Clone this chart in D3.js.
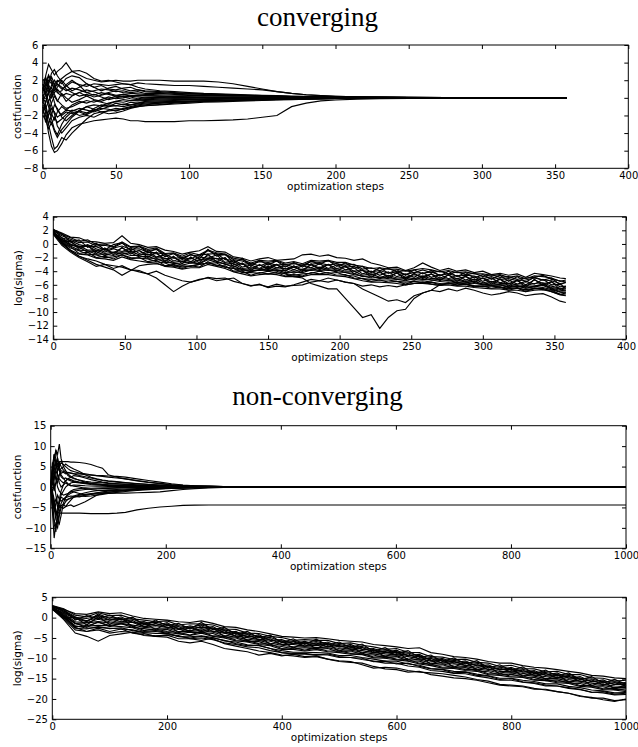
<!DOCTYPE html>
<html>
  <head>
    <meta charset="UTF-8" />
    <title>converging / non-converging</title>
    <script src="https://cdn.jsdelivr.net/npm/d3@7"></script>
    <style>
      body { margin: 0; background: #fff; }
      text { font-family: "DejaVu Sans", sans-serif; }
    </style>
  </head>
  <body>
    <script>
      // ---- data: converging run, costfunction ----
      var convCostSteps = [0,2,4,6,8,10,13,16,20,25,30,35,40,45,50,55,60,65,70,80,90,100,110,120,130,140,150,160,170,180,190,200,215,230,250,275,300,330,358];
      var convCostRuns = [
        [0.5,2.5,3.8,3.2,2.6,3.0,3.4,4.0,3.0,3.1,2.8,2.2,1.9,2.0,1.8,1.6,1.5,1.2,1.0,0.8,0.7,0.6,0.5,0.45,0.4,0.35,0.3,0.25,0.2,0.18,0.15,0.12,0.1,0.08,0.06,0.04,0.03,0.02,0.02],
        [1.0,1.5,2.0,1.6,1.2,1.8,2.2,2.6,3.0,2.6,2.2,2.0,1.8,1.9,2.0,1.9,1.9,2.0,2.0,2.0,1.9,1.9,1.9,1.8,1.6,1.3,1.0,0.7,0.5,0.35,0.25,0.18,0.12,0.08,0.05,0.04,0.03,0.02,0.02],
        [-1.5,-2.0,-4.0,-5.5,-6.2,-6.0,-5.2,-4.2,-3.4,-3.0,-2.8,-2.6,-2.5,-2.4,-2.3,-2.4,-2.6,-2.6,-2.7,-2.7,-2.7,-2.6,-2.6,-2.55,-2.5,-2.4,-2.2,-2.0,-1.0,-0.6,-0.35,-0.25,-0.15,-0.1,-0.06,-0.04,-0.03,-0.02,-0.02],
        [-0.5,-1.0,-3.0,-4.5,-5.8,-5.5,-4.5,-4.8,-4.0,-3.2,-2.4,-1.8,-1.6,-1.5,-1.4,-1.3,-1.1,-1.0,-0.9,-0.8,-0.7,-0.6,-0.5,-0.45,-0.4,-0.35,-0.3,-0.25,-0.2,-0.15,-0.12,-0.1,-0.08,-0.06,-0.04,-0.03,-0.02,-0.01,-0.01],
        [1.8,1.8,1.2,0.5,1.0,1.6,1.2,0.8,1.1,0.9,0.6,0.8,1.0,0.9,0.7,0.8,0.6,0.7,0.5,0.5,0.4,0.35,0.3,0.28,0.25,0.22,0.2,0.18,0.15,0.12,0.1,0.08,0.06,0.05,0.04,0.03,0.02,0.01,0.01],
        [-1.0,-1.5,-2.0,-1.2,-1.6,-2.2,-1.8,-1.4,-1.5,-1.2,-1.4,-1.6,-1.3,-1.0,-0.9,-1.0,-0.8,-0.7,-0.6,-0.5,-0.45,-0.4,-0.35,-0.3,-0.25,-0.22,-0.2,-0.17,-0.15,-0.12,-0.1,-0.08,-0.06,-0.05,-0.04,-0.03,-0.02,-0.01,-0.01],
        [0.2,0.6,-0.4,0.3,1.5,2.0,1.6,2.2,2.5,2.3,1.6,1.2,1.4,1.0,0.9,1.1,1.2,0.9,0.8,0.7,0.6,0.5,0.45,0.4,0.35,0.3,0.25,0.2,0.15,0.12,0.1,0.08,0.06,0.05,0.04,0.03,0.02,0.01,0.01],
        [0.0,-0.5,0.8,1.2,0.4,-0.3,-0.8,-1.2,-1.0,-0.6,-0.3,-0.5,-0.2,0.1,-0.1,0.0,0.2,0.1,0.0,0.1,0.05,0.0,0.05,0.03,0.02,0.02,0.01,0,0,0,0,0,0,0,0,0,0,0,0],
        [2.0,2.2,1.5,0.8,-0.5,-1.4,-2.0,-1.6,-1.8,-1.5,-1.7,-1.4,-1.2,-1.3,-1.5,-1.2,-1.0,-0.8,-0.7,-0.6,-0.5,-0.45,-0.4,-0.35,-0.3,-0.25,-0.2,-0.18,-0.15,-0.12,-0.1,-0.08,-0.06,-0.05,-0.04,-0.03,-0.02,-0.01,-0.01],
        [-2.0,-2.5,-3.5,-2.8,-3.8,-4.5,-3.6,-3.0,-2.2,-1.5,-1.0,-0.8,-0.9,-0.6,-0.4,-0.5,-0.3,-0.35,-0.3,-0.25,-0.2,-0.2,-0.15,-0.12,-0.1,-0.1,-0.08,-0.07,-0.06,-0.05,-0.04,-0.03,-0.02,-0.02,-0.01,-0.01,0,0,0],
        [0.8,1.0,2.5,2.0,1.4,0.6,0.2,0.5,0.3,0.6,0.9,0.7,0.4,0.6,0.8,0.6,0.5,0.45,0.4,0.35,0.3,0.28,0.25,0.22,0.2,0.18,0.15,0.13,0.11,0.1,0.08,0.06,0.05,0.04,0.03,0.02,0.02,0.01,0.01],
        [-0.8,-1.2,-0.4,-1.8,-2.5,-1.6,-1.0,-1.4,-0.8,-0.4,-0.6,-0.3,-0.5,-0.7,-0.4,-0.2,-0.3,-0.25,-0.2,-0.15,-0.12,-0.1,-0.1,-0.08,-0.07,-0.06,-0.05,-0.04,-0.03,-0.03,-0.02,-0.02,-0.01,-0.01,-0.01,0,0,0,0],
        [-0.3,0.3,1.5,2.8,3.2,2.5,1.8,1.0,0.6,0.2,0.4,0.1,0.3,0.5,0.3,0.4,0.2,0.3,0.25,0.2,0.15,0.12,0.1,0.1,0.08,0.07,0.06,0.05,0.04,0.03,0.03,0.02,0.02,0.01,0.01,0.01,0,0,0],
        [-1.5,-0.8,-2.2,-3.0,-2.2,-2.8,-2.4,-1.9,-1.4,-1.6,-1.9,-1.5,-1.0,-0.8,-0.9,-0.7,-0.8,-0.6,-0.5,-0.45,-0.4,-0.38,-0.35,-0.3,-0.28,-0.25,-0.22,-0.2,-0.16,-0.13,-0.1,-0.08,-0.06,-0.05,-0.04,-0.03,-0.02,-0.01,-0.01],
        [1.5,1.2,0.6,1.4,2.0,1.5,1.0,1.3,1.8,1.5,1.3,1.6,1.5,1.4,1.5,1.6,1.5,1.7,1.6,1.5,1.4,1.4,1.3,1.2,1.1,1.0,0.9,0.7,0.5,0.35,0.25,0.18,0.12,0.08,0.05,0.03,0.02,0.02,0.01],
        [-1.0,-2.8,-1.5,-0.6,0.2,-0.4,0.5,0.0,-0.5,-0.2,0.2,0.4,0.1,-0.2,0.0,0.2,0.1,-0.1,0.0,0.05,-0.05,0.0,0.05,0.0,0.02,0.0,0.01,0,0,0,0,0,0,0,0,0,0,0,0],
        [1.2,0.4,-1.0,-2.4,-3.6,-4.2,-3.0,-2.2,-1.6,-2.0,-1.8,-1.2,-0.8,-1.0,-0.6,-0.8,-0.5,-0.6,-0.4,-0.35,-0.3,-0.25,-0.2,-0.18,-0.15,-0.12,-0.1,-0.08,-0.06,-0.05,-0.04,-0.03,-0.02,-0.02,-0.01,-0.01,0,0,0],
        [-0.6,1.6,2.6,1.8,0.8,1.2,2.0,1.4,0.8,1.2,1.6,1.2,0.8,1.1,1.3,1.0,0.8,0.9,0.7,0.6,0.5,0.45,0.4,0.35,0.3,0.26,0.22,0.18,0.15,0.12,0.1,0.08,0.06,0.05,0.04,0.03,0.02,0.01,0.01],
        [0.4,-1.8,-3.0,-2.0,-0.8,-1.2,-2.2,-2.6,-2.0,-1.4,-1.0,-1.3,-1.6,-1.8,-1.7,-1.5,-1.2,-1.0,-0.9,-0.75,-0.6,-0.5,-0.42,-0.36,-0.3,-0.26,-0.22,-0.18,-0.15,-0.12,-0.1,-0.08,-0.06,-0.05,-0.04,-0.03,-0.02,-0.01,-0.01],
        [1.6,0.6,1.8,2.4,1.6,0.6,0.8,1.5,2.0,1.4,0.6,0.3,0.6,0.4,0.2,0.4,0.3,0.2,0.25,0.2,0.15,0.12,0.1,0.08,0.07,0.06,0.05,0.04,0.03,0.02,0.02,0.01,0.01,0.01,0,0,0,0,0],
        [-1.8,-0.6,0.6,-0.8,-1.8,-3.2,-4.0,-3.4,-2.6,-2.2,-2.0,-2.2,-1.8,-1.4,-1.2,-1.3,-1.1,-0.9,-0.8,-0.6,-0.5,-0.42,-0.35,-0.3,-0.25,-0.2,-0.17,-0.14,-0.12,-0.1,-0.08,-0.06,-0.05,-0.04,-0.03,-0.02,-0.01,-0.01,-0.01],
        [0.9,2.4,1.0,0.0,0.6,1.0,0.4,-0.4,0.2,0.6,0.2,-0.2,-0.4,-0.1,0.2,0.1,-0.1,-0.2,-0.1,-0.05,0.0,0.03,0.02,0.0,0.0,0,0,0,0,0,0,0,0,0,0,0,0,0,0]
      ];

      // ---- data: converging run, log(sigma) ----
      var convSigmaSteps = [0,6,12,18,24,30,36,42,48,54,60,66,72,78,84,90,96,102,108,114,120,126,132,138,144,150,156,162,168,174,180,186,192,198,204,210,216,222,228,234,240,246,252,258,264,270,276,282,288,294,300,306,312,318,324,330,336,342,348,354,358];
      var convSigmaRuns = [
        [2.1,1.6,1.0,0.9,0.4,0.3,0.1,0.2,1.2,0.1,-0.1,-0.5,-0.4,-0.9,-1.1,-1.5,-1.2,-1.0,-0.4,-1.1,-1.2,-1.9,-2.1,-2.5,-2.2,-2.0,-2.4,-2.3,-2.2,-1.6,-1.5,-1.8,-1.6,-2.0,-2.1,-2.4,-2.2,-2.8,-3.1,-3.5,-3.4,-3.9,-3.5,-2.8,-3.4,-3.9,-3.6,-4.0,-3.8,-4.2,-4.0,-4.5,-4.3,-4.6,-4.4,-4.9,-4.3,-4.5,-4.7,-5.0,-5.1],
        [1.9,1.2,0.7,0.2,0.3,-0.3,-0.2,-0.5,0.1,-0.5,-0.4,-1.0,-0.8,-1.5,-1.4,-2.0,-1.6,-1.8,-1.0,-1.5,-1.6,-2.3,-2.5,-3.0,-2.6,-2.7,-2.5,-3.0,-2.9,-3.1,-2.6,-2.7,-2.5,-2.9,-3.1,-3.0,-3.7,-3.5,-3.9,-3.6,-4.1,-3.9,-4.2,-3.8,-4.2,-4.0,-4.4,-4.1,-4.5,-4.3,-4.8,-4.5,-4.9,-4.8,-5.2,-5.0,-4.9,-4.6,-5.2,-5.4,-5.6],
        [1.7,0.9,0.5,-0.1,-0.4,-0.4,-0.9,-0.6,-0.3,-0.8,-0.7,-1.2,-1.3,-1.5,-2.1,-2.0,-2.2,-1.6,-1.5,-1.4,-2.3,-2.4,-3.0,-2.9,-3.2,-2.8,-3.1,-3.0,-3.4,-3.1,-3.0,-2.8,-3.1,-2.9,-3.4,-3.3,-3.9,-4.1,-3.9,-4.3,-4.1,-4.5,-4.2,-4.3,-4.1,-4.6,-4.4,-4.7,-4.6,-4.7,-5.1,-4.8,-5.2,-5.1,-5.4,-5.3,-5.0,-5.3,-5.4,-5.8,-5.7],
        [1.8,0.6,0.3,-0.4,-0.3,-1.0,-0.8,-1.3,-0.6,-1.2,-1.0,-1.6,-1.4,-2.2,-2.0,-2.6,-2.1,-2.5,-1.7,-2.2,-2.1,-3.0,-2.9,-3.6,-3.1,-3.5,-3.0,-3.7,-3.4,-3.8,-3.1,-3.5,-3.0,-3.6,-3.3,-4.0,-3.9,-4.5,-4.2,-4.7,-4.3,-4.9,-4.5,-4.8,-4.4,-5.0,-4.6,-5.1,-4.8,-5.3,-5.0,-5.6,-5.2,-5.8,-5.4,-6.0,-5.3,-5.8,-5.6,-6.3,-6.2],
        [1.6,0.7,-0.2,-0.3,-0.9,-0.9,-1.4,-1.2,-1.2,-1.1,-1.6,-1.5,-2.0,-2.1,-2.7,-2.5,-2.8,-2.3,-2.2,-2.1,-2.8,-2.9,-3.6,-3.5,-3.7,-3.3,-3.7,-3.6,-4.0,-3.7,-3.7,-3.4,-3.7,-3.6,-4.0,-4.0,-4.6,-4.4,-4.9,-4.6,-5.0,-4.9,-5.1,-4.7,-5.1,-5.0,-5.2,-5.1,-5.5,-5.2,-5.7,-5.5,-5.8,-5.8,-6.0,-6.1,-5.8,-5.7,-6.2,-6.5,-6.6],
        [1.9,0.4,-0.3,-0.9,-1.0,-1.5,-1.5,-1.7,-1.3,-1.7,-1.7,-2.1,-2.1,-2.7,-2.8,-3.1,-2.8,-2.9,-2.3,-2.7,-2.9,-3.5,-3.7,-4.1,-3.8,-3.9,-3.8,-4.2,-4.1,-4.2,-3.8,-3.9,-3.8,-4.1,-4.2,-4.5,-4.7,-5.0,-4.9,-5.1,-5.2,-5.4,-5.1,-5.2,-5.3,-5.5,-5.4,-5.6,-5.6,-5.8,-5.9,-6.0,-6.0,-6.3,-6.1,-6.5,-6.2,-6.0,-6.5,-6.8,-6.9],
        [1.5,0.2,-0.6,-1.0,-1.5,-1.6,-2.0,-1.9,-1.6,-2.0,-2.1,-2.2,-2.6,-2.8,-3.3,-3.2,-3.3,-3.0,-2.8,-2.8,-3.4,-3.6,-4.2,-4.2,-4.3,-4.0,-4.3,-4.3,-4.6,-4.4,-4.3,-4.0,-4.3,-4.2,-4.6,-4.7,-5.1,-5.2,-5.3,-5.3,-5.5,-5.6,-5.5,-5.4,-5.6,-5.8,-5.7,-5.8,-5.9,-6.1,-6.2,-6.2,-6.3,-6.5,-6.5,-6.7,-6.5,-6.4,-6.7,-7.1,-7.2],
        [1.7,0.1,-0.9,-1.5,-1.6,-2.1,-2.2,-2.4,-1.9,-2.3,-2.5,-2.7,-2.8,-3.3,-3.4,-3.7,-3.5,-3.5,-3.0,-3.3,-3.6,-4.1,-4.4,-4.7,-4.5,-4.4,-4.5,-4.8,-4.8,-4.8,-4.5,-4.5,-4.5,-4.7,-4.8,-5.1,-5.4,-5.6,-5.6,-5.7,-5.8,-6.0,-5.8,-5.8,-5.9,-6.1,-6.0,-6.2,-6.2,-6.4,-6.5,-6.6,-6.6,-6.8,-6.8,-7.0,-6.8,-6.7,-7.0,-7.5,-7.6],
        [2.0,1.5,0.3,0.6,-0.5,0.1,-0.9,-0.1,0.2,-1.0,-0.3,-1.3,-0.7,-1.9,-1.4,-2.3,-1.5,-2.2,-0.8,-1.8,-1.5,-2.8,-2.1,-3.3,-2.4,-3.1,-2.5,-3.4,-2.7,-3.4,-2.5,-3.0,-2.4,-3.3,-2.8,-3.6,-3.3,-4.2,-3.5,-4.3,-3.8,-4.6,-3.8,-4.4,-3.9,-4.7,-4.0,-4.8,-4.2,-5.0,-4.5,-5.2,-4.6,-5.5,-4.8,-5.6,-4.9,-5.3,-5.0,-6.0,-5.6],
        [1.7,0.3,0.5,-0.8,-0.2,-1.4,-0.6,-1.6,-0.5,-1.5,-0.9,-2.0,-1.2,-2.6,-1.8,-2.9,-1.9,-2.8,-1.5,-2.6,-2.0,-3.4,-2.8,-3.9,-3.0,-3.8,-3.0,-4.0,-3.2,-4.1,-2.9,-3.8,-3.0,-4.0,-3.2,-4.4,-3.8,-4.9,-4.0,-5.0,-4.2,-5.3,-4.3,-5.1,-4.4,-5.4,-4.5,-5.5,-4.7,-5.7,-5.0,-5.9,-5.1,-6.2,-5.3,-6.4,-5.2,-6.1,-5.5,-6.7,-6.2],
        [2.2,0.9,0.0,-0.5,-0.1,-0.7,-1.2,-0.7,-1.1,-0.6,-1.4,-1.1,-1.9,-1.6,-2.5,-2.1,-2.6,-1.9,-2.1,-1.6,-2.7,-2.5,-3.4,-3.1,-3.6,-2.9,-3.5,-3.2,-3.8,-3.2,-3.5,-2.9,-3.6,-3.1,-3.8,-3.5,-4.4,-4.0,-4.6,-4.1,-4.8,-4.4,-4.9,-4.2,-4.9,-4.5,-5.1,-4.6,-5.3,-4.8,-5.5,-5.0,-5.7,-5.3,-5.9,-5.5,-5.9,-5.2,-6.0,-5.9,-6.5],
        [1.8,0.5,-0.1,-0.5,-1.2,-1.1,-1.7,-1.3,-1.5,-1.3,-1.9,-1.8,-2.3,-2.4,-2.9,-2.8,-2.6,-2.9,-2.1,-2.5,-3.0,-3.2,-3.8,-3.8,-3.9,-3.6,-3.9,-3.9,-4.3,-3.9,-3.9,-3.6,-3.9,-3.8,-4.2,-4.3,-4.8,-4.7,-5.1,-4.8,-5.2,-5.1,-5.3,-4.9,-5.3,-5.2,-5.4,-5.3,-5.6,-5.5,-5.9,-5.7,-6.0,-6.0,-6.3,-6.2,-6.2,-5.9,-6.4,-6.6,-6.8],
        [2.0,1.4,0.9,0.4,0.6,-0.1,0.0,-0.4,0.3,-0.4,-0.3,-0.8,-0.6,-1.4,-1.3,-1.8,-1.3,-1.6,-0.9,-1.3,-1.5,-2.1,-2.3,-2.8,-2.4,-2.5,-2.4,-2.8,-2.6,-2.9,-2.4,-2.5,-2.4,-2.7,-2.7,-3.1,-3.3,-3.6,-3.5,-3.7,-3.7,-4.0,-3.8,-3.6,-3.8,-4.1,-3.9,-4.2,-4.1,-4.4,-4.4,-4.6,-4.5,-4.9,-4.7,-5.1,-4.7,-4.8,-5.0,-5.5,-5.3],
        [1.6,0.2,-0.4,-1.4,-1.2,-2.0,-1.8,-2.2,-1.6,-2.2,-2.0,-2.6,-2.4,-3.2,-3.1,-3.6,-3.2,-3.4,-2.6,-3.2,-3.2,-4.0,-4.0,-4.6,-4.2,-4.4,-4.2,-4.7,-4.5,-4.7,-4.2,-4.4,-4.2,-4.6,-4.5,-5.0,-5.1,-5.5,-5.3,-5.6,-5.5,-5.9,-5.5,-5.7,-5.6,-6.0,-5.7,-6.1,-5.9,-6.3,-6.2,-6.5,-6.3,-6.8,-6.5,-7.0,-6.5,-6.7,-6.8,-7.4,-7.2],
        [1.6,0.0,-1.0,-1.8,-2.2,-2.5,-3.0,-3.2,-3.4,-3.8,-3.9,-4.4,-5.0,-6.0,-7.0,-6.2,-5.6,-5.2,-5.0,-5.4,-5.2,-5.0,-5.8,-6.1,-6.0,-6.3,-5.9,-6.2,-6.1,-6.0,-5.6,-5.4,-5.6,-5.3,-5.6,-5.8,-6.2,-6.0,-6.3,-6.1,-6.3,-6.0,-5.8,-5.6,-5.9,-6.1,-5.8,-6.0,-5.9,-6.2,-6.3,-6.1,-6.4,-6.6,-6.4,-6.8,-6.6,-6.5,-7.0,-7.4,-7.5],
        [1.9,0.3,-1.0,-1.8,-2.4,-3.0,-3.4,-3.8,-4.6,-3.9,-3.2,-3.0,-2.9,-3.2,-3.0,-3.4,-3.2,-3.0,-2.8,-3.1,-3.4,-3.6,-3.9,-4.0,-3.8,-3.8,-4.0,-4.4,-4.8,-5.0,-5.8,-6.2,-6.6,-6.6,-8.0,-9.4,-10.8,-10.4,-12.4,-10.8,-9.8,-9.6,-8.0,-7.2,-6.8,-6.0,-5.8,-5.6,-5.9,-5.7,-6.0,-6.1,-6.0,-6.4,-6.2,-6.5,-6.3,-6.1,-6.6,-7.0,-7.1],
        [1.4,-0.2,-1.2,-2.0,-2.6,-3.3,-3.0,-3.6,-3.2,-3.8,-4.1,-4.4,-4.0,-4.6,-5.0,-5.4,-5.6,-5.3,-4.9,-5.1,-5.0,-5.5,-5.8,-6.2,-5.9,-6.4,-6.2,-6.3,-6.0,-5.6,-5.2,-5.4,-5.0,-5.3,-5.6,-5.8,-6.6,-7.2,-7.8,-8.4,-8.2,-8.6,-7.6,-7.2,-6.8,-7.0,-6.6,-6.9,-6.5,-6.8,-7.2,-7.5,-7.3,-7.0,-7.2,-7.6,-7.4,-7.3,-7.8,-8.4,-8.6]
      ];

      // ---- data: non-converging run, costfunction ----
      var nonCostSteps = [0,3,6,9,12,15,18,22,26,30,35,40,50,60,70,80,90,100,115,130,150,170,190,210,230,250,275,300,350,1000];
      var nonCostRuns = [
        [0,4,7,9,8,10.5,7,5,4,3.2,2.6,2.2,1.6,1.2,0.9,0.7,0.6,0.5,0.4,0.3,0.25,0.2,0.15,0.1,0.08,0.06,0.04,0.03,0.02,0.02],
        [0,-6,-12.5,-9,-10,-7,-5,-4.5,-3.6,-3,-2.6,-2.2,-1.8,-1.4,-1.1,-0.9,-0.8,-0.7,-0.6,-0.5,-0.4,-0.3,-0.25,-0.2,-0.15,-0.1,-0.08,-0.05,-0.03,-0.03],
        [0,-3,-5,-6,-6.2,-6.4,-6.4,-6.4,-6.4,-6.4,-6.4,-6.4,-6.4,-6.45,-6.5,-6.5,-6.5,-6.5,-6.4,-6.2,-5.6,-5.2,-4.9,-4.7,-4.5,-4.45,-4.4,-4.4,-4.4,-4.4],
        [0,3,5,6.5,5.5,6.2,6.3,6.2,6.2,6.2,6.1,6.1,6.0,5.8,5.5,5.0,4.6,3.0,2.4,2.0,1.5,1.1,0.8,0.5,0.35,0.25,0.15,0.1,0.05,0.05],
        [0,2,4,6,4,5,6,5.5,5,4.5,4,3.8,3.4,3.2,3.0,2.8,2.6,2.4,2.2,2.0,1.6,1.2,0.9,0.6,0.4,0.3,0.2,0.12,0.06,0.06],
        [0,-2,-5,-8,-9,-6,-4,-3,-2.5,-2,-1.5,-1.2,-1.6,-2.0,-1.8,-1.4,-1.2,-1.0,-0.8,-0.7,-0.6,-0.5,-0.4,-0.3,-0.2,-0.15,-0.1,-0.06,-0.04,-0.04],
        [0,3,1,-2,-4,-5,-4.6,-4.2,-4.8,-4.0,-3.2,-2.5,-2.0,-1.8,-1.6,-1.5,-1.4,-1.3,-1.1,-0.9,-0.7,-0.5,-0.35,-0.25,-0.18,-0.12,-0.08,-0.05,-0.03,-0.03],
        [0,5,8,6,3,2,1.5,1,1.5,2,2.4,2.8,2.6,2.2,1.8,1.5,1.2,1.0,0.8,0.6,0.45,0.35,0.25,0.2,0.14,0.1,0.07,0.05,0.03,0.03],
        [0,-4,-8,-10,-7,-4,-2,-1,0,0.5,1,1.2,1.0,0.8,0.6,0.5,0.4,0.35,0.3,0.25,0.2,0.15,0.12,0.1,0.07,0.05,0.04,0.03,0.02,0.02],
        [0,1,3,2,0,-1,-1.5,-2,-1.8,-1.6,-1.2,-1.0,-0.8,-0.6,-0.5,-0.45,-0.4,-0.35,-0.3,-0.25,-0.2,-0.15,-0.1,-0.08,-0.06,-0.04,-0.03,-0.02,-0.01,-0.01],
        [0,-1,2,4,3,1,0,0.5,1,0.6,0.3,0.5,0.4,0.3,0.25,0.2,0.18,0.15,0.12,0.1,0.08,0.06,0.05,0.04,0.03,0.02,0.02,0.01,0.01,0.01],
        [0,6,4,2,1,3,4,3.8,3.5,3.6,3.4,3.2,2.8,2.5,2.2,1.9,1.6,1.4,1.2,1.0,0.8,0.6,0.45,0.35,0.25,0.18,0.12,0.08,0.05,0.05],
        [0,-3,-6,-4,-2,-3,-3.5,-3,-2.6,-2.4,-2.2,-2.3,-2.4,-2.0,-1.8,-1.7,-1.6,-1.6,-1.5,-1.5,-1.4,-1.3,-1.2,-0.9,-0.6,-0.4,-0.2,-0.1,-0.04,-0.04],
        [0,-2,-4,-7,-5,-4.5,-5,-5.2,-4.8,-4.6,-4.4,-4.8,-4.2,-3.6,-2.8,-2.0,-1.6,-1.3,-1.0,-0.8,-0.6,-0.45,-0.3,-0.2,-0.14,-0.1,-0.06,-0.04,-0.02,-0.02],
        [0,2,6,9,7,4,2.5,2,2.2,1.8,1.5,1.3,1.1,0.9,0.8,0.7,0.6,0.55,0.5,0.45,0.35,0.28,0.2,0.15,0.1,0.07,0.05,0.03,0.02,0.02],
        [0,1,0,1,2,3,3.4,3.6,3.2,3.5,3.4,3.3,3.2,3.0,2.9,2.8,2.8,2.7,2.6,2.4,2.0,1.6,1.2,0.8,0.5,0.3,0.2,0.12,0.06,0.06],
        [0,-5,-9,-11,-6,-3,-1,0.5,1.5,2.0,1.8,1.5,1.2,1.0,0.8,0.7,0.6,0.5,0.4,0.3,0.22,0.16,0.12,0.08,0.05,0.03,0.02,0.01,0.01,0.01],
        [0,4,8,7,5,4,4.5,5,5.6,5.2,4.8,4.4,3.8,3.0,2.4,2.0,1.7,1.5,1.3,1.1,0.85,0.65,0.5,0.36,0.25,0.17,0.1,0.06,0.03,0.03],
        [0,-2,-4,-3,-5,-3.5,-2.5,-2.8,-3.2,-3.0,-2.8,-2.5,-2.2,-2.3,-2.2,-2.0,-1.8,-1.6,-1.3,-1.1,-0.85,-0.65,-0.5,-0.35,-0.25,-0.16,-0.1,-0.06,-0.03,-0.03],
        [0,1,-1,1,4,6,5,4.2,3.6,2.8,2.4,2.0,1.7,1.4,1.2,1.1,1.0,0.9,0.8,0.7,0.55,0.42,0.3,0.22,0.15,0.1,0.06,0.04,0.02,0.02],
        [0,-1,-3,-6,-8,-9,-7,-4,-2.5,-1.6,-1.0,-0.6,-0.4,-0.2,-0.3,-0.25,-0.2,-0.18,-0.15,-0.12,-0.1,-0.08,-0.06,-0.05,-0.04,-0.03,-0.02,-0.01,-0.01,-0.01],
        [0,3,2,5,7,5,3,2.2,1.4,0.8,0.4,0.2,0.0,-0.4,-0.6,-0.8,-0.9,-0.9,-0.85,-0.8,-0.65,-0.5,-0.38,-0.28,-0.2,-0.13,-0.08,-0.05,-0.02,-0.02]
      ];

      // ---- data: non-converging run, log(sigma) ----
      var nonSigmaSteps = [0,20,40,60,80,100,120,140,160,180,200,220,240,260,280,300,320,340,360,380,400,420,440,460,480,500,520,540,560,580,600,620,640,660,680,700,720,740,760,780,800,820,840,860,880,900,920,940,960,980,1000];
      var nonSigmaRuns = [
        [2.9,2.0,1.0,0.8,1.4,1.0,1.2,0.4,-0.2,-0.4,-0.6,-1.0,-1.2,-0.8,-1.4,-2.2,-2.4,-3.0,-3.4,-4.0,-4.6,-4.8,-5.0,-4.9,-5.2,-5.6,-5.8,-6.0,-6.6,-6.9,-7.2,-7.6,-7.4,-8.6,-9.0,-9.6,-9.8,-10.2,-10.8,-11.2,-11.2,-11.8,-12.2,-12.4,-12.8,-13.2,-13.6,-14.2,-14.4,-14.8,-15.0],
        [3.0,2.2,0.6,0.2,1.2,0.5,0.6,-0.3,-0.6,-1.0,-0.8,-1.8,-1.5,-1.6,-1.8,-2.8,-2.9,-3.8,-3.9,-4.6,-4.9,-5.6,-5.4,-5.6,-5.6,-6.4,-6.2,-6.8,-7.2,-7.8,-7.6,-8.5,-8.6,-9.6,-9.7,-10.3,-10.2,-11.0,-11.2,-12.0,-11.7,-12.5,-12.6,-13.3,-13.2,-14.0,-14.0,-14.8,-14.9,-15.6,-15.4],
        [2.8,1.6,0.0,-0.2,0.4,0.1,-0.3,-0.4,-1.4,-1.1,-1.7,-2.0,-2.4,-1.8,-2.6,-3.0,-3.7,-4.0,-4.6,-4.9,-5.8,-5.8,-6.2,-5.9,-6.4,-6.6,-7.0,-7.1,-7.9,-8.0,-8.4,-8.7,-9.4,-9.8,-10.4,-10.5,-11.0,-11.2,-12.0,-12.2,-12.6,-12.7,-13.4,-13.5,-14.0,-14.2,-14.9,-15.1,-15.7,-15.8,-16.2],
        [2.4,1.2,-0.4,-0.7,-0.1,-0.6,-0.4,-1.1,-1.6,-1.8,-1.8,-2.6,-2.6,-2.4,-2.8,-3.6,-3.9,-4.6,-4.8,-5.5,-6.0,-6.4,-6.4,-6.5,-6.6,-7.2,-7.2,-7.7,-8.1,-8.6,-8.6,-9.3,-9.6,-10.4,-10.6,-11.1,-11.2,-11.8,-12.2,-12.8,-12.8,-13.3,-13.6,-14.1,-14.2,-14.8,-15.1,-15.7,-15.9,-16.4,-16.4],
        [2.2,1.0,-1.0,-1.2,-0.4,-1.0,-1.1,-1.2,-2.2,-2.0,-2.4,-2.9,-3.2,-2.8,-3.4,-3.8,-4.5,-4.9,-5.4,-5.8,-6.6,-6.6,-7.0,-6.8,-7.1,-7.6,-7.7,-8.1,-8.6,-8.9,-9.1,-9.6,-10.1,-10.7,-11.1,-11.4,-11.7,-12.2,-12.7,-13.2,-13.3,-13.7,-14.1,-14.5,-14.7,-15.2,-15.6,-16.1,-16.4,-16.8,-16.9],
        [2.6,0.8,-1.4,-1.3,-1.0,-1.3,-1.4,-1.8,-2.4,-2.6,-2.6,-3.4,-3.4,-3.2,-3.6,-4.4,-4.8,-5.4,-5.6,-6.3,-6.8,-7.2,-7.2,-7.3,-7.4,-8.0,-8.0,-8.5,-8.9,-9.4,-9.4,-10.1,-10.4,-11.2,-11.4,-11.9,-12.0,-12.6,-13.0,-13.6,-13.6,-14.1,-14.4,-15.0,-15.0,-15.6,-15.9,-16.5,-16.7,-17.2,-17.2],
        [2.3,0.4,-1.5,-2.0,-1.2,-1.9,-1.5,-2.4,-2.7,-3.1,-2.9,-3.9,-3.6,-3.7,-3.9,-4.9,-5.0,-5.9,-5.9,-6.8,-7.1,-7.7,-7.4,-7.8,-7.6,-8.5,-8.2,-9.0,-9.2,-9.9,-9.6,-10.6,-10.7,-11.7,-11.6,-12.4,-12.3,-13.1,-13.3,-14.1,-13.9,-14.6,-14.7,-15.5,-15.3,-16.1,-16.2,-17.0,-17.0,-17.7,-17.5],
        [2.0,0.2,-2.2,-2.1,-1.9,-2.0,-2.2,-2.5,-3.4,-3.2,-3.6,-4.0,-4.4,-3.8,-4.6,-5.0,-5.7,-6.0,-6.6,-6.9,-7.8,-7.8,-8.2,-7.9,-8.4,-8.6,-9.0,-9.1,-9.9,-10.0,-10.4,-10.7,-11.4,-11.8,-12.4,-12.5,-13.0,-13.2,-14.0,-14.2,-14.6,-14.7,-15.4,-15.5,-16.0,-16.2,-16.9,-17.1,-17.7,-17.8,-18.2],
        [2.4,0.0,-2.6,-2.8,-2.2,-2.7,-2.5,-3.2,-3.7,-3.9,-3.9,-4.7,-4.7,-4.5,-4.9,-5.7,-6.0,-6.7,-6.9,-7.6,-8.1,-8.5,-8.5,-8.6,-8.7,-9.3,-9.3,-9.8,-10.2,-10.7,-10.7,-11.4,-11.7,-12.5,-12.7,-13.2,-13.3,-13.9,-14.3,-14.9,-14.9,-15.4,-15.7,-16.3,-16.3,-16.9,-17.2,-17.8,-18.0,-18.5,-18.4],
        [2.1,-0.5,-3.8,-4.6,-5.8,-4.4,-4.0,-3.6,-3.9,-4.6,-4.2,-4.4,-5.2,-5.6,-5.0,-5.6,-6.4,-6.9,-6.8,-7.6,-8.6,-8.8,-8.8,-9.2,-8.9,-9.6,-9.8,-10.0,-10.8,-10.7,-11.4,-11.2,-12.0,-12.6,-12.8,-13.6,-13.4,-14.2,-14.4,-15.2,-15.0,-15.8,-16.0,-16.6,-16.8,-17.2,-17.6,-18.4,-18.2,-18.8,-18.6],
        [2.2,0.5,-2.4,-3.4,-3.0,-3.8,-3.4,-3.6,-4.4,-4.6,-4.8,-5.8,-6.2,-5.8,-6.6,-7.6,-8.0,-8.4,-9.2,-8.8,-9.4,-9.0,-9.6,-9.4,-10.2,-10.6,-10.8,-11.6,-12.4,-12.2,-12.4,-13.0,-13.4,-13.6,-13.8,-14.2,-14.6,-15.2,-15.6,-16.4,-16.6,-16.8,-17.4,-17.8,-18.2,-18.6,-19.4,-19.6,-20.2,-20.6,-20.0],
        [2.6,0.2,-2.0,-2.6,-2.4,-2.6,-2.8,-3.0,-3.6,-3.4,-3.8,-4.6,-5.0,-4.6,-5.2,-6.4,-7.0,-7.6,-8.2,-8.6,-9.2,-9.4,-9.8,-9.6,-10.2,-10.8,-11.0,-11.2,-12.0,-12.6,-12.8,-13.4,-13.2,-14.0,-14.4,-14.8,-15.0,-15.4,-16.0,-16.6,-16.8,-17.0,-17.6,-17.6,-18.2,-18.6,-19.2,-19.8,-19.8,-20.4,-20.2],
        [2.7,2.0,-0.6,0.5,-0.2,0.6,-0.6,0.1,-1.8,-0.6,-2.0,-1.4,-2.8,-1.2,-3.0,-2.4,-4.1,-3.4,-5.0,-4.3,-6.2,-5.2,-6.6,-5.3,-6.8,-6.0,-7.4,-6.5,-8.3,-7.4,-8.8,-8.1,-9.8,-9.2,-10.8,-9.9,-11.4,-10.6,-12.4,-11.6,-13.0,-12.1,-13.8,-12.9,-14.4,-13.6,-15.3,-14.5,-16.1,-15.2,-16.4],
        [2.3,-0.1,0.1,-1.8,0.2,-1.7,-0.1,-2.2,-1.3,-2.9,-1.5,-3.7,-2.3,-3.5,-2.5,-4.7,-3.6,-5.7,-4.5,-6.6,-5.7,-7.5,-6.1,-7.6,-6.3,-8.3,-6.9,-8.8,-7.8,-9.7,-8.3,-10.4,-9.3,-11.5,-10.3,-12.2,-10.9,-12.9,-11.9,-13.9,-12.5,-14.4,-13.3,-15.2,-13.9,-15.9,-14.8,-16.8,-15.6,-17.5,-16.5],
        [2.5,0.6,-1.4,-2.4,-1.0,-2.2,-1.5,-2.0,-3.2,-2.8,-3.4,-3.6,-4.3,-3.4,-4.5,-4.6,-5.5,-5.6,-6.4,-6.5,-7.6,-7.4,-8.0,-7.5,-8.2,-8.2,-8.8,-8.7,-9.7,-9.6,-10.2,-10.3,-11.2,-11.4,-12.2,-12.1,-12.8,-12.8,-13.8,-13.8,-14.4,-14.3,-15.2,-15.1,-15.8,-15.8,-16.7,-16.7,-17.5,-17.4,-17.9],
        [2.8,1.4,-0.2,-1.0,0.9,-0.2,-1.0,-0.7,-2.2,-1.4,-2.4,-2.2,-3.4,-2.0,-3.4,-3.2,-4.6,-4.2,-5.4,-5.2,-6.6,-5.9,-7.0,-6.2,-7.2,-6.8,-7.8,-7.3,-8.6,-8.3,-9.2,-8.9,-10.2,-10.0,-11.2,-10.7,-11.8,-11.4,-12.8,-12.4,-13.4,-12.9,-14.2,-13.7,-14.8,-14.4,-15.7,-15.3,-16.5,-16.0,-16.8],
        [2.2,-0.2,-3.0,-3.4,-2.6,-3.4,-2.8,-3.8,-4.2,-4.5,-4.3,-5.2,-5.2,-5.0,-5.4,-6.2,-6.6,-7.2,-7.4,-8.1,-8.6,-9.0,-9.0,-9.1,-9.2,-9.8,-9.8,-10.3,-10.7,-11.2,-11.2,-11.9,-12.2,-13.0,-13.2,-13.7,-13.8,-14.4,-14.8,-15.4,-15.4,-15.9,-16.2,-16.8,-16.8,-17.4,-17.7,-18.3,-18.5,-19.0,-18.9],
        [2.6,1.8,0.2,-0.9,0.6,-0.6,0.2,-1.2,-1.0,-2.0,-1.2,-2.8,-2.0,-2.6,-2.2,-3.8,-3.4,-4.8,-4.2,-5.6,-5.4,-6.4,-5.8,-6.6,-6.0,-7.2,-6.6,-7.8,-7.6,-8.6,-8.0,-9.4,-9.0,-10.6,-10.0,-11.2,-10.6,-11.9,-11.6,-12.9,-12.2,-13.4,-13.0,-14.2,-13.6,-14.9,-14.5,-15.8,-15.3,-16.5,-15.9]
      ];

      // axis ticks
      var convXTicks = [0,50,100,150,200,250,300,350,400];
      var convCostYTicks = [-8,-6,-4,-2,0,2,4,6];
      var convSigmaYTicks = [-14,-12,-10,-8,-6,-4,-2,0,2,4];
      var nonXTicks = [0,200,400,600,800,1000];
      var nonCostYTicks = [-15,-10,-5,0,5,10,15];
      var nonSigmaYTicks = [-25,-20,-15,-10,-5,0,5];

      var svg = d3
        .select("body")
        .append("svg")
        .attr("width", 638)
        .attr("height", 747);

      svg.append("rect").attr("width", 638).attr("height", 747).attr("fill", "#fff");

      svg
        .append("text")
        .attr("x", 317.6)
        .attr("y", 26)
        .attr("text-anchor", "middle")
        .style("font-family", "'Liberation Serif', 'Times New Roman', serif")
        .style("font-size", "27px")
        .text("converging");

      svg
        .append("text")
        .attr("x", 317.5)
        .attr("y", 405)
        .attr("text-anchor", "middle")
        .style("font-family", "'Liberation Serif', 'Times New Roman', serif")
        .style("font-size", "27px")
        .text("non-converging");

      function panel(box, xTicks, yTicks, steps, runs, ylab, ylabX) {
        var x = d3.scaleLinear().domain([xTicks[0], xTicks[xTicks.length - 1]]).range([box.l, box.r]);
        var y = d3.scaleLinear().domain([yTicks[0], yTicks[yTicks.length - 1]]).range([box.b, box.t]);
        var g = svg.append("g");

        var line = d3
          .line()
          .x(function (d) { return x(d[0]); })
          .y(function (d) { return y(d[1]); });

        g.selectAll("path.run")
          .data(runs)
          .enter()
          .append("path")
          .attr("class", "run")
          .attr("fill", "none")
          .attr("stroke", "#000")
          .attr("stroke-width", 1.15)
          .attr("d", function (r) {
            var n = Math.min(r.length, steps.length);
            var pts = [];
            for (var i = 0; i < n; i++) pts.push([steps[i], r[i]]);
            return line(pts);
          });

        var fmt = d3.format("d");
        var bottom = g.append("g")
          .attr("transform", "translate(0," + box.b + ")")
          .call(d3.axisBottom(x).tickValues(xTicks).tickSize(-4).tickPadding(3.5).tickFormat(fmt));
        var top = g.append("g")
          .attr("transform", "translate(0," + box.t + ")")
          .call(d3.axisTop(x).tickValues(xTicks).tickSize(-4).tickFormat(""));
        var left = g.append("g")
          .attr("transform", "translate(" + box.l + ",0)")
          .call(d3.axisLeft(y).tickValues(yTicks).tickSize(-4).tickPadding(4.4).tickFormat(fmt));
        var right = g.append("g")
          .attr("transform", "translate(" + box.r + ",0)")
          .call(d3.axisRight(y).tickValues(yTicks).tickSize(-4).tickFormat(""));

        [bottom, top, left, right].forEach(function (a) {
          a.select(".domain").remove();
          a.attr("font-family", null).attr("font-size", null);
          a.selectAll("line").attr("stroke", "#000");
          a.selectAll("text").attr("fill", "#000").style("font-size", "10px");
        });

        g.append("rect")
          .attr("x", box.l)
          .attr("y", box.t)
          .attr("width", box.r - box.l)
          .attr("height", box.b - box.t)
          .attr("fill", "none")
          .attr("stroke", "#000")
          .attr("stroke-width", 1);

        g.append("text")
          .attr("x", (box.l + box.r) / 2)
          .attr("y", box.b + 21.7)
          .attr("text-anchor", "middle")
          .style("font-size", "10.5px")
          .text("optimization steps");

        g.append("text")
          .attr("transform", "translate(" + ylabX + "," + (box.t + box.b) / 2 + ") rotate(-90)")
          .attr("text-anchor", "middle")
          .style("font-size", "10.5px")
          .text(ylab);
      }

      panel({ l: 42.7, r: 628.3, t: 45, b: 168.3 }, convXTicks, convCostYTicks, convCostSteps, convCostRuns, "costfunction", 20.5);
      panel({ l: 53.3, r: 626, t: 216.7, b: 339.3 }, convXTicks, convSigmaYTicks, convSigmaSteps, convSigmaRuns, "log(sigma)", 21.5);
      panel({ l: 50.7, r: 626, t: 425.7, b: 548.3 }, nonXTicks, nonCostYTicks, nonCostSteps, nonCostRuns, "costfunction", 20.5);
      panel({ l: 52.3, r: 626, t: 597.3, b: 719.3 }, nonXTicks, nonSigmaYTicks, nonSigmaSteps, nonSigmaRuns, "log(sigma)", 20.5);
    </script>
  </body>
</html>
